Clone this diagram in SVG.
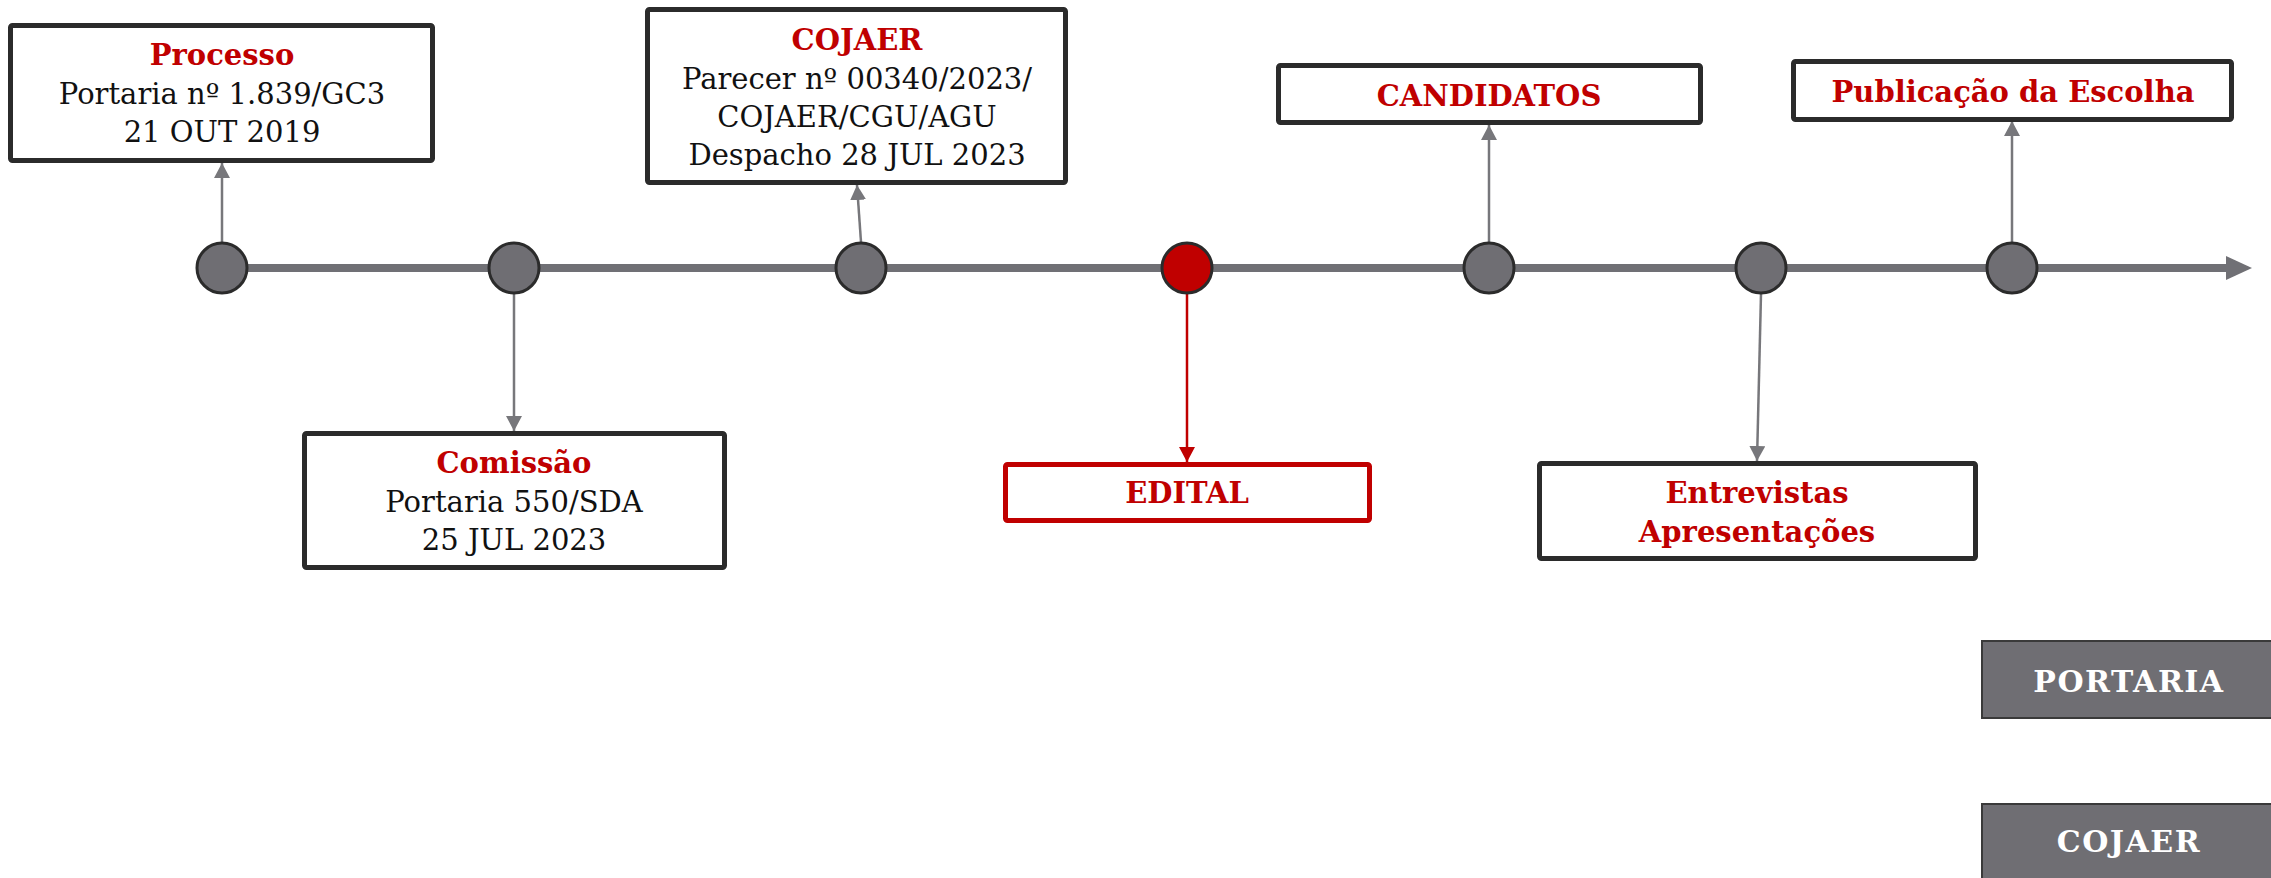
<svg xmlns="http://www.w3.org/2000/svg" width="2271" height="878" viewBox="0 0 2271 878">
<defs>
<style>
.box{fill:#fff;stroke:#2b2b2b;stroke-width:5}
.rbox{fill:#fff;stroke:#c00000;stroke-width:5}
.gbox{fill:#6f6e73;stroke:#3a3a3a;stroke-width:2}
.dot{fill:#6f6e73;stroke:#2b2b2b;stroke-width:3}
.rdot{fill:#c00000;stroke:#2b2b2b;stroke-width:3}
.t{font-family:"DejaVu Serif","Liberation Serif",serif;font-size:29px;text-anchor:middle;fill:#111}
.h{font-weight:bold;fill:#c00000}
.w{font-weight:bold;fill:#fff;font-size:30px;letter-spacing:1.5px}
.con{stroke:#77777b;stroke-width:2.5;fill:none;marker-end:url(#ag)}
.rcon{stroke:#c00000;stroke-width:2.5;fill:none;marker-end:url(#ar)}
</style>
<marker id="ag" markerUnits="userSpaceOnUse" markerWidth="16" markerHeight="16" refX="15" refY="8" orient="auto"><path d="M0,0 L15,8 L0,16 Z" fill="#77777b"/></marker>
<marker id="ar" markerUnits="userSpaceOnUse" markerWidth="16" markerHeight="16" refX="15" refY="8" orient="auto"><path d="M0,0 L15,8 L0,16 Z" fill="#c00000"/></marker>
</defs>
<rect width="2271" height="878" fill="#fff"/>
<g id="timeline">
<line x1="222" y1="268" x2="2230" y2="268" stroke="#707075" stroke-width="8"/>
<polygon points="2226,256 2252,268 2226,280" fill="#707075"/>
</g>
<g id="connectors">
<line class="con" x1="222" y1="242" x2="222" y2="163"/>
<line class="con" x1="514" y1="293" x2="514" y2="431"/>
<line class="con" x1="861" y1="242" x2="857" y2="185"/>
<line class="rcon" x1="1187" y1="293" x2="1187" y2="462"/>
<line class="con" x1="1489" y1="242" x2="1489" y2="125"/>
<line class="con" x1="1761" y1="294" x2="1757" y2="461"/>
<line class="con" x1="2012" y1="242" x2="2012" y2="121"/>
</g>
<g id="dots">
<circle class="dot" cx="222" cy="268" r="25"/>
<circle class="dot" cx="514" cy="268" r="25"/>
<circle class="dot" cx="861" cy="268" r="25"/>
<circle class="rdot" cx="1187" cy="268" r="25"/>
<circle class="dot" cx="1489" cy="268" r="25"/>
<circle class="dot" cx="1761" cy="268" r="25"/>
<circle class="dot" cx="2012" cy="268" r="25"/>
</g>
<g id="processo">
<rect class="box" x="10.5" y="25.5" width="422" height="135" rx="2"/>
<text class="t h" x="222" y="65">Processo</text>
<text class="t" x="222" y="104">Portaria nº 1.839/GC3</text>
<text class="t" x="222" y="142">21 OUT 2019</text>
</g>
<g id="comissao">
<rect class="box" x="304.5" y="433.5" width="420" height="134" rx="2"/>
<text class="t h" x="514" y="473">Comissão</text>
<text class="t" x="514" y="512">Portaria 550/SDA</text>
<text class="t" x="514" y="550">25 JUL 2023</text>
</g>
<g id="cojaer">
<rect class="box" x="647.5" y="9.5" width="418" height="173" rx="2"/>
<text class="t h" x="857" y="50">COJAER</text>
<text class="t" x="857" y="89">Parecer nº 00340/2023/</text>
<text class="t" x="857" y="127">COJAER/CGU/AGU</text>
<text class="t" x="857" y="165">Despacho 28 JUL 2023</text>
</g>
<g id="edital">
<rect class="rbox" x="1005.5" y="464.5" width="364" height="56" rx="2"/>
<text class="t h" x="1187" y="503">EDITAL</text>
</g>
<g id="candidatos">
<rect class="box" x="1278.5" y="65.5" width="422" height="57" rx="2"/>
<text class="t h" x="1489" y="106">CANDIDATOS</text>
</g>
<g id="entrevistas">
<rect class="box" x="1539.5" y="463.5" width="436" height="95" rx="2"/>
<text class="t h" x="1757" y="503">Entrevistas</text>
<text class="t h" x="1757" y="542">Apresentações</text>
</g>
<g id="publicacao">
<rect class="box" x="1793.5" y="61.5" width="438" height="58" rx="2"/>
<text class="t h" x="2013" y="102">Publicação da Escolha</text>
</g>
<g id="portaria">
<rect class="gbox" x="1982" y="641" width="300" height="77"/>
<text class="t w" x="2129" y="692">PORTARIA</text>
</g>
<g id="cojaer-legend">
<rect class="gbox" x="1982" y="804" width="300" height="90"/>
<text class="t w" x="2129" y="852">COJAER</text>
</g>
</svg>
